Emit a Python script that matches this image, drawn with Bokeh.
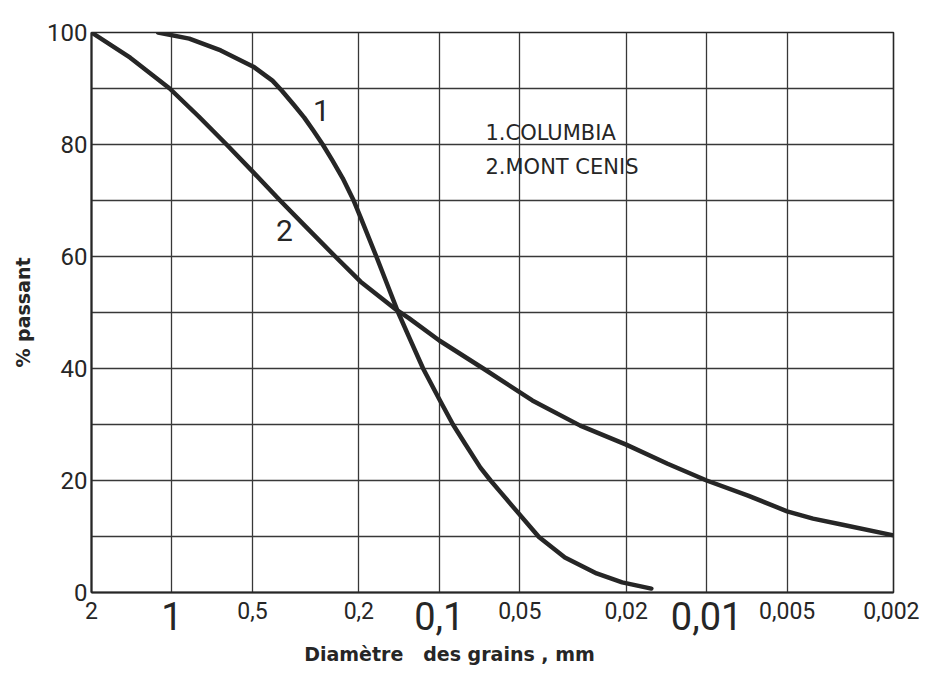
from bokeh.plotting import figure
from bokeh.models import LogAxis, FixedTicker, Range1d
from bokeh.core.properties import value
from bokeh.embed import file_html
from bokeh.resources import INLINE

# ---- data ----
x_ticks_small = [2, 0.5, 0.2, 0.05, 0.02, 0.005, 0.002]
x_labels_small = ["2", "0,5", "0,2", "0,05", "0,02", "0,005", "0,002"]
x_ticks_big = [1, 0.1, 0.01]
x_labels_big = ["1", "0,1", "0,01"]
y_ticks = [0, 20, 40, 60, 80, 100]
y_grid = [0, 10, 20, 30, 40, 50, 60, 70, 80, 90, 100]

columbia_d = [1.127, 0.862, 0.657, 0.496, 0.421, 0.388, 0.349, 0.32, 0.296, 0.273, 0.2515,
              0.23, 0.21, 0.197, 0.172, 0.1425, 0.13, 0.115, 0.1, 0.0889, 0.0802, 0.0702,
              0.0643, 0.0585, 0.0528, 0.0424, 0.0339, 0.0258, 0.0207, 0.0161]
columbia_pct = [100, 98.9, 96.8, 93.9, 91.4, 89.6, 87, 84.8, 82.5, 80, 77.2,
                74, 70.2, 67, 60, 50, 45.7, 40, 34.5, 30, 26.6, 22.3,
                20, 17.7, 15.2, 9.9, 6.25, 3.4, 1.8, 0.7]

mont_cenis_d = [2, 1.433, 1.02, 0.794, 0.625, 0.5, 0.394, 0.314, 0.245, 0.197, 0.145,
                0.13, 0.1, 0.0685, 0.0449, 0.0297, 0.02, 0.014, 0.01, 0.007,
                0.005, 0.004, 0.0031, 0.002]
mont_cenis_pct = [100, 95.5, 90, 85, 80, 75.2, 70, 65.2, 60, 55.5, 50.5,
                  49, 45, 40, 34.3, 29.8, 26.4, 23, 20, 17.3,
                  14.5, 13.2, 12.1, 10.2]

legend_lines = ["1.COLUMBIA", "2.MONT CENIS"]

NUM_FONT = "Roboto"
INK = "#262626"
NB = "\u00a0"

p = figure(width=919, height=677, x_axis_type="log",
           x_range=Range1d(2, 0.002), y_range=Range1d(0, 100),
           output_backend="svg", toolbar_location=None,
           min_border_left=91, min_border_top=32, min_border_right=26,
           min_border_bottom=85)
p.background_fill_color = "white"
p.border_fill_color = "white"
p.outline_line_color = INK
p.outline_line_width = 1.6

# grid
p.xgrid.ticker = FixedTicker(ticks=x_ticks_small + x_ticks_big)
p.ygrid.ticker = FixedTicker(ticks=y_grid)
for g in (p.xgrid[0], p.ygrid[0]):
    g.grid_line_color = "#383838"
    g.grid_line_width = 1.3
    g.grid_line_alpha = 1.0

# x axis with small labels
ax1 = p.xaxis[0]
ax1.ticker = FixedTicker(ticks=x_ticks_small)
ax1.major_label_overrides = dict(zip(x_ticks_small, x_labels_small))
ax1.major_label_text_font = NUM_FONT
ax1.major_label_text_font_size = "23px"
ax1.major_label_text_color = INK
ax1.major_label_standoff = 9
ax1.major_tick_out = 0
ax1.major_tick_in = 0
ax1.minor_tick_out = 0
ax1.minor_tick_in = 0
ax1.axis_line_color = INK
ax1.axis_line_width = 2

# x axis with big labels
ax2 = LogAxis(ticker=FixedTicker(ticks=x_ticks_big))
ax2.major_label_overrides = dict(zip(x_ticks_big, x_labels_big))
ax2.major_label_text_font = NUM_FONT
ax2.major_label_text_font_size = "38px"
ax2.major_label_text_color = INK
ax2.major_label_standoff = -20
ax2.major_tick_out = 0
ax2.major_tick_in = 0
ax2.minor_tick_out = 0
ax2.minor_tick_in = 0
ax2.axis_line_color = None
ax2.axis_label = "Diamètre" + NB * 3 + "des grains , mm" + NB * 13
ax2.axis_label_text_font = "DejaVu Sans"
ax2.axis_label_text_font_style = "bold"
ax2.axis_label_text_font_size = "19px"
ax2.axis_label_text_color = INK
ax2.axis_label_standoff = 10
p.add_layout(ax2, "below")

# y axis
ay = p.yaxis[0]
ay.ticker = FixedTicker(ticks=y_ticks)
ay.major_label_text_font = NUM_FONT
ay.major_label_text_font_size = "24px"
ay.major_label_text_color = INK
ay.major_label_standoff = 4
ay.major_tick_out = 0
ay.major_tick_in = 0
ay.minor_tick_out = 0
ay.minor_tick_in = 0
ay.axis_line_color = INK
ay.axis_line_width = 2
ay.axis_label = "% passant"
ay.axis_label_text_font = "DejaVu Sans"
ay.axis_label_text_font_style = "bold"
ay.axis_label_text_font_size = "19px"
ay.axis_label_text_color = INK
ay.axis_label_standoff = 10

# curves
p.line(columbia_d, columbia_pct, line_width=4.5, line_color=INK, line_cap="round", line_join="round")
p.line(mont_cenis_d, mont_cenis_pct, line_width=4.5, line_color=INK, line_cap="round", line_join="round")

# curve numbers
p.text(x=[0.276, 0.38], y=[86.1, 64.6], text=["1", "2"],
       text_font=value(NUM_FONT), text_font_size="30px",
       text_color=INK, text_align="center", text_baseline="middle")

# legend text
p.text(x=[0.0672, 0.0672], y=[82.1, 75.9], text=legend_lines,
       text_font=value("DejaVu Sans"), text_font_size="21px",
       text_color=INK, text_align="left", text_baseline="middle")

open("out.html", "w").write(file_html(p, INLINE))
